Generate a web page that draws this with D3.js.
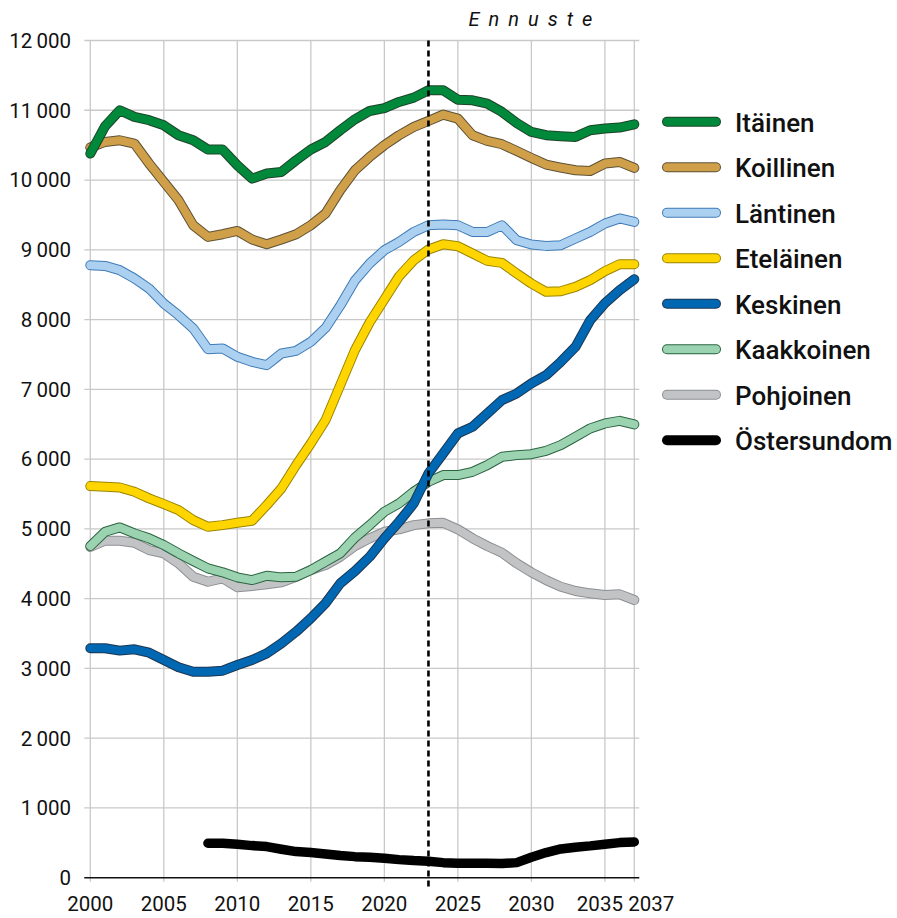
<!DOCTYPE html>
<html>
<head>
<meta charset="utf-8">
<script src="https://cdn.jsdelivr.net/npm/d3@7"></script>
<style>
body { margin: 0; background: #fff; }
text { font-family: Roboto, "Noto Sans", sans-serif; fill: #111; }
</style>
</head>
<body>
<div id="chart"></div>
<script>
// years on the x axis
var years = d3.range(2000, 2038)

// population per district, 2000-2037 (2023 onwards is forecast)
var itainen    = [10380,10770,11000,10905,10857,10785,10642,10570,10437,10437,10212,10020,10093,10116,10284,10437,10546,10714,10870,10990,11030,11119,11181,11286,11286,11152,11143,11095,10976,10818,10689,10642,10628,10618,10714,10738,10752,10799]
var koillinen  = [10466,10546,10570,10523,10236,9973,9711,9352,9185,9223,9271,9147,9080,9147,9223,9352,9520,9854,10140,10331,10499,10642,10761,10847,10938,10881,10642,10561,10513,10417,10317,10222,10179,10140,10130,10236,10259,10174]
var lantinen   = [8779,8769,8708,8589,8445,8230,8063,7873,7576,7586,7466,7394,7347,7514,7552,7681,7880,8200,8560,8803,8994,9113,9256,9352,9363,9352,9256,9256,9352,9137,9076,9056,9066,9162,9256,9377,9449,9400]
var etelainen  = [5613,5603,5594,5532,5437,5355,5269,5126,5030,5054,5087,5116,5341,5580,5914,6225,6559,7060,7562,7960,8290,8620,8850,9004,9080,9051,8947,8841,8812,8661,8517,8397,8407,8469,8565,8694,8794,8794]
var keskinen   = [3288,3288,3255,3274,3225,3120,3016,2953,2953,2967,3049,3120,3216,3359,3526,3718,3933,4219,4395,4600,4864,5102,5365,5795,6081,6368,6463,6654,6845,6941,7084,7203,7394,7609,7990,8235,8420,8577]
var kaakkoinen = [4754,4958,5021,4935,4864,4768,4649,4539,4434,4377,4305,4266,4328,4305,4314,4410,4529,4649,4875,5054,5245,5365,5532,5675,5771,5771,5818,5914,6033,6057,6071,6119,6201,6320,6440,6511,6549,6497]
var pohjoinen  = [4740,4830,4830,4801,4696,4649,4506,4314,4242,4291,4162,4181,4205,4233,4314,4410,4481,4600,4755,4864,4958,4993,5054,5079,5087,4993,4864,4754,4658,4506,4377,4266,4171,4109,4076,4052,4062,3980]
var ostersundom = [null,null,null,null,null,null,null,null,494,494,480,460,446,408,374,360,341,317,302,294,279,259,245,236,216,208,208,208,202,216,294,360,412,437,456,480,503,513]

var names = ["Itäinen","Koillinen","Läntinen","Eteläinen","Keskinen","Kaakkoinen","Pohjoinen","Östersundom"]
var fills = ["#00883b","#cf9f49","#acd0f0","#ffd500","#0067b2","#9bd3b1","#c2c3c5","#000000"]
var strokes = ["#1e4428","#5e5234","#3f7bb7","#9a8500","#1d3652","#2b6440","#8d8f92","#000000"]

var yTicks = d3.range(0, 13000, 1000)
var xTicks = [2000,2005,2010,2015,2020,2025,2030,2035,2037]
var forecastYear = 2023

var series = names.map(function(n, i){
	return {name: n, fill: fills[i], stroke: strokes[i], values: [itainen,koillinen,lantinen,etelainen,keskinen,kaakkoinen,pohjoinen,ostersundom][i]}
})

var width = 897
var height = 918
var margin = {left: 90.3, right: 262.7, top: 40.5, bottom: 40.3}

var svg = d3.select("#chart")
	.append("svg")
	.attr("width", width)
	.attr("height", height)

var xScale = d3.scaleLinear().domain([2000, 2037]).range([margin.left, width - margin.right])
var yScale = d3.scaleLinear().domain([0, 12000]).range([height - margin.bottom, margin.top])

var fmt = d3.formatLocale({decimal: ",", thousands: "\u2009", grouping: [3], currency: ["", " €"]}).format(",")

// grid
svg.append("g")
	.selectAll("line")
	.data(yTicks.slice(1))
	.enter()
	.append("line")
	.attr("x1", xScale(2000) - 6)
	.attr("x2", xScale(2037) + 5)
	.attr("y1", d => yScale(d))
	.attr("y2", d => yScale(d))
	.style("stroke", "#c9c9c9")
	.style("stroke-width", 1.3)

svg.append("g")
	.selectAll("line")
	.data(xTicks)
	.enter()
	.append("line")
	.attr("x1", d => xScale(d))
	.attr("x2", d => xScale(d))
	.attr("y1", yScale(12000))
	.attr("y2", yScale(0) + 4)
	.style("stroke", "#c9c9c9")
	.style("stroke-width", 1.3)

// zero line
svg.append("line")
	.attr("x1", xScale(2000) - 6)
	.attr("x2", xScale(2037) + 5)
	.attr("y1", yScale(0))
	.attr("y2", yScale(0))
	.style("stroke", "#111")
	.style("stroke-width", 1.6)

// y labels
svg.append("g")
	.selectAll("text")
	.data(yTicks)
	.enter()
	.append("text")
	.attr("x", 71)
	.attr("y", d => yScale(d))
	.attr("dy", "0.36em")
	.attr("text-anchor", "end")
	.style("font-size", "20.5px")
	.text(d => fmt(d))

// x labels
svg.append("g")
	.selectAll("text")
	.data(xTicks)
	.enter()
	.append("text")
	.attr("x", d => xScale(d))
	.attr("y", 911)
	.attr("dx", d => d === 2035 ? -5 : (d === 2037 ? -6 : 0))
	.attr("text-anchor", d => d === 2037 ? "start" : "middle")
	.style("font-size", "20.5px")
	.text(d => d)

// lines, last legend entry drawn first
var line = d3.line()
	.defined(d => d != null)
	.x((d, i) => xScale(years[i]))
	.y(d => yScale(d))

var drawOrder = series.slice().reverse()

drawOrder.forEach(function(s){
	var g = svg.append("g")
	if (s.name !== "Östersundom") {
		g.append("path")
			.attr("d", line(s.values))
			.style("fill", "none")
			.style("stroke", s.stroke)
			.style("stroke-width", 10)
			.style("stroke-linejoin", "round")
			.style("stroke-linecap", "round")
	}
	g.append("path")
		.attr("d", line(s.values))
		.style("fill", "none")
		.style("stroke", s.fill)
		.style("stroke-width", s.name === "Östersundom" ? 9.5 : 8)
		.style("stroke-linejoin", "round")
		.style("stroke-linecap", "round")
})

// forecast marker
svg.append("line")
	.attr("x1", xScale(forecastYear))
	.attr("x2", xScale(forecastYear))
	.attr("y1", yScale(12000))
	.attr("y2", yScale(0) + 10)
	.style("stroke", "#000")
	.style("stroke-width", 2.6)
	.style("stroke-dasharray", "6,4")

svg.append("text")
	.attr("x", 535)
	.attr("y", 26)
	.attr("text-anchor", "middle")
	.style("font-size", "20px")
	.style("font-style", "italic")
	.style("letter-spacing", "9px")
	.text("Ennuste")

// legend
var legend = svg.append("g")
	.selectAll("g")
	.data(series)
	.enter()
	.append("g")
	.attr("transform", (d, i) => "translate(0," + (121.7 + i * 45.5) + ")")

legend.filter(d => d.name !== "Östersundom")
	.append("line")
	.attr("x1", 667).attr("x2", 716)
	.style("stroke", d => d.stroke)
	.style("stroke-width", 10)
	.style("stroke-linecap", "round")

legend.append("line")
	.attr("x1", 667).attr("x2", 716)
	.style("stroke", d => d.fill)
	.style("stroke-width", d => d.name === "Östersundom" ? 10 : 8)
	.style("stroke-linecap", "round")

legend.append("text")
	.attr("x", 735)
	.attr("y", 10)
	.style("font-size", "26px")
	.style("font-weight", 500)
	.text(d => d.name)
</script>
</body>
</html>
